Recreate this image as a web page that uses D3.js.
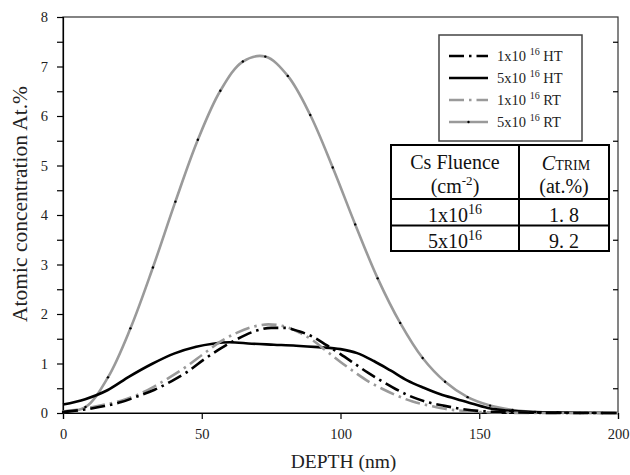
<!DOCTYPE html>
<html>
<head>
<meta charset="utf-8">
<script src="https://cdn.jsdelivr.net/npm/d3@7/dist/d3.min.js"></script>
<style>
  body { margin: 0; background: #fff; }
  svg { display: block; font-family: "Liberation Serif", "Times New Roman", serif; }
  .axis path, .axis line { stroke: #000; stroke-width: 1.2px; }
  .axis text { font-size: 14.5px; fill: #222; font-family: "Liberation Serif", serif; }
</style>
</head>
<body>
<div id="chart"></div>
<script>
/* ---- data ---- */
// 1x10^16 HT (black, dash-dot)
var ht1Depth = [0, 9, 15, 21, 27, 33, 39, 45, 51, 57, 63, 69, 75, 80, 85, 90, 95, 100, 105, 110, 115, 120, 126, 132, 137, 145, 153, 165, 180, 200];
var ht1Conc  = [0.02, 0.08, 0.14, 0.22, 0.34, 0.47, 0.64, 0.84, 1.09, 1.31, 1.50, 1.65, 1.72, 1.72, 1.65, 1.54, 1.37, 1.19, 1.00, 0.81, 0.64, 0.48, 0.32, 0.21, 0.15, 0.07, 0.03, 0.01, 0.0, 0.0];
// 5x10^16 HT (black, solid)
var ht5Depth = [0, 8, 16, 24, 32, 40, 48, 54, 60, 68, 76, 84, 92, 100, 106, 112, 118, 124, 130, 136, 142, 148, 154, 160, 170, 180, 200];
var ht5Conc  = [0.17, 0.28, 0.46, 0.74, 0.99, 1.20, 1.34, 1.40, 1.43, 1.40, 1.38, 1.36, 1.33, 1.29, 1.21, 1.05, 0.86, 0.66, 0.51, 0.38, 0.28, 0.18, 0.09, 0.05, 0.02, 0.01, 0.0];
// 1x10^16 RT (gray, dash-dot)
var rt1Depth = [0, 9, 15, 21, 27, 33, 39, 45, 51, 57, 63, 69, 74, 79, 85, 90, 95, 100, 105, 110, 115, 120, 126, 132, 138, 145, 155, 170, 200];
var rt1Conc  = [0.03, 0.10, 0.17, 0.25, 0.37, 0.54, 0.74, 0.96, 1.21, 1.45, 1.63, 1.75, 1.79, 1.76, 1.63, 1.47, 1.25, 1.03, 0.83, 0.64, 0.49, 0.36, 0.23, 0.15, 0.08, 0.04, 0.01, 0.0, 0.0];
// 5x10^16 RT (gray, solid, with points)
var rt5Depth = [0, 8.1, 16.2, 24.3, 32.4, 40.5, 48.6, 56.7, 64.8, 72.9, 81.0, 89.1, 97.2, 105.3, 113.4, 121.5, 129.6, 137.7, 145.8, 153.9, 162.0, 170.1, 178.2, 186.3, 194.4, 200];
var rt5Conc  = [0.02, 0.12, 0.72, 1.71, 2.94, 4.27, 5.52, 6.51, 7.10, 7.20, 6.81, 6.02, 4.96, 3.81, 2.72, 1.82, 1.11, 0.63, 0.32, 0.15, 0.06, 0.02, 0.01, 0.0, 0.0, 0.0];

var legendBase   = ["1x10", "5x10", "1x10", "5x10"];
var legendExp    = ["16", "16", "16", "16"];
var legendSuffix = ["HT", "HT", "RT", "RT"];

var xTicks = [0, 50, 100, 150, 200];
var yTicks = [0, 1, 2, 3, 4, 5, 6, 7, 8];
var yMinorTicks = [0.5, 1.5, 2.5, 3.5, 4.5, 5.5, 6.5, 7.5];

// table (Cs fluence vs C_TRIM)
var tableFluence = ["1x10", "5x10"];
var tableExp     = ["16", "16"];
var tableTrim    = ["1. 8", "9. 2"];

/* ---- layout ---- */
var width = 630, height = 475;
var margin = {top: 17, right: 12, bottom: 62, left: 63};

var svg = d3.select("#chart").append("svg")
    .attr("width", width)
    .attr("height", height);

svg.append("rect").attr("width", width).attr("height", height).attr("fill", "#fff");

var x = d3.scaleLinear().domain([0, 200]).range([margin.left, width - margin.right]);
var y = d3.scaleLinear().domain([0, 8]).range([height - margin.bottom, margin.top]);

// frame (top and right)
svg.append("rect")
    .attr("x", x(0)).attr("y", y(8))
    .attr("width", x(200) - x(0)).attr("height", y(0) - y(8))
    .attr("fill", "none").attr("stroke", "#333").attr("stroke-width", 1.2);

// axes
svg.append("g").attr("class", "axis")
    .attr("transform", "translate(0," + y(0) + ")")
    .call(d3.axisBottom(x).tickValues(xTicks).tickSize(6).tickPadding(10).tickFormat(d3.format("d")));

svg.append("g").attr("class", "axis")
    .attr("transform", "translate(" + x(0) + ",0)")
    .call(d3.axisLeft(y).tickValues(yTicks).tickSize(6).tickPadding(9).tickFormat(d3.format("d")));

svg.append("g").attr("class", "axis")
    .attr("transform", "translate(" + x(0) + ",0)")
    .call(d3.axisLeft(y).tickValues(yMinorTicks).tickSize(6).tickFormat(""))
    .select(".domain").remove();

svg.append("g").attr("class", "axis")
    .attr("transform", "translate(" + x(200) + ",0)")
    .call(d3.axisLeft(y).tickValues(yMinorTicks).tickSize(5).tickFormat(""))
    .select(".domain").remove();

// axis titles
svg.append("text")
    .attr("x", (x(0) + x(200)) / 2 + 3).attr("y", 468)
    .attr("text-anchor", "middle")
    .style("font-size", "19.5px").style("fill", "#222")
    .text("DEPTH (nm)");

svg.append("text")
    .attr("transform", "translate(27," + 204 + ") rotate(-90)")
    .attr("text-anchor", "middle")
    .style("font-size", "21.5px").style("fill", "#222")
    .text("Atomic concentration At.%");

/* ---- curves ---- */
var series = [
  {depth: ht1Depth, conc: ht1Conc, color: "#000", dash: "15,5,2.5,5"},
  {depth: ht5Depth, conc: ht5Conc, color: "#000", dash: null},
  {depth: rt1Depth, conc: rt1Conc, color: "#9a9a9a", dash: "15,5,2.5,5"},
  {depth: rt5Depth, conc: rt5Conc, color: "#9a9a9a", dash: null}
];

var line = d3.line()
    .x(function(d) { return x(d[0]); })
    .y(function(d) { return y(Math.max(0, d[1])); })
    .curve(d3.curveMonotoneX);

var smoothLine = d3.line()
    .x(function(d) { return x(d[0]); })
    .y(function(d) { return y(d[1]); })
    .curve(d3.curveCatmullRom.alpha(0.5));

// draw in the stacking order of the picture: big RT first, dash-dots over
[3, 1, 2, 0].forEach(function(i) {
  var s = series[i];
  svg.append("path")
      .datum(d3.zip(s.depth, s.conc))
      .attr("fill", "none")
      .attr("stroke", s.color)
      .attr("stroke-width", 2.6)
      .attr("stroke-dasharray", s.dash)
      .attr("d", i === 3 ? smoothLine : line);
});

// points on 5x10^16 RT
svg.selectAll(".pt").data(d3.zip(rt5Depth, rt5Conc).slice(0, rt5Depth.length - 1)).enter()
  .append("circle")
    .attr("class", "pt")
    .attr("cx", function(d) { return x(d[0]); })
    .attr("cy", function(d) { return y(d[1]); })
    .attr("r", 1.2)
    .attr("fill", "#000");

/* ---- legend ---- */
var legend = svg.append("g").attr("transform", "translate(439,35)");
legend.append("rect")
    .attr("width", 143).attr("height", 106)
    .attr("fill", "#fff").attr("stroke", "#444").attr("stroke-width", 1.5);

var rows = legend.selectAll(".lg").data(series).enter()
  .append("g").attr("class", "lg")
  .attr("transform", function(d, i) { return "translate(0," + (21 + i * 22) + ")"; });

rows.append("line")
    .attr("x1", 10).attr("x2", 49)
    .attr("stroke", function(d) { return d.color; })
    .attr("stroke-width", 2.6)
    .attr("stroke-dasharray", function(d) { return d.dash ? "15,5,2.5,5" : null; });

rows.filter(function(d, i) { return i === 3; }).append("circle")
    .attr("cx", 29.5).attr("r", 1.2).attr("fill", "#000");

var lt = rows.append("text")
    .attr("x", 58).attr("y", 5)
    .style("font-size", "14.5px").style("fill", "#222");
lt.append("tspan").text(function(d, i) { return legendBase[i] + " "; });
lt.append("tspan").attr("dy", -6).style("font-size", "10px").text(function(d, i) { return legendExp[i]; });
lt.append("tspan").attr("dy", 6).text(function(d, i) { return " " + legendSuffix[i]; });

/* ---- table ---- */
var tb = svg.append("g").attr("transform", "translate(391,145)");
var tw = 218, th = 106, c1 = 128, r1 = 54, r2 = 80.5;
tb.append("rect").attr("width", tw).attr("height", th)
    .attr("fill", "#fff").attr("stroke", "#000").attr("stroke-width", 2);
tb.append("line").attr("x1", c1).attr("x2", c1).attr("y1", 0).attr("y2", th).attr("stroke", "#000").attr("stroke-width", 2);
[r1, r2].forEach(function(r) {
  tb.append("line").attr("x1", 0).attr("x2", tw).attr("y1", r).attr("y2", r).attr("stroke", "#000").attr("stroke-width", 2);
});

function cellText(cx, cy) {
  return tb.append("text").attr("x", cx).attr("y", cy)
      .attr("text-anchor", "middle")
      .style("font-size", "20px").style("fill", "#111");
}

cellText(c1 / 2, 24).text("Cs Fluence");
var cm = cellText(c1 / 2, 48);
cm.append("tspan").text("(cm");
cm.append("tspan").attr("dy", -8).style("font-size", "13px").text("-2");
cm.append("tspan").attr("dy", 8).text(")");

var ct = cellText((c1 + tw) / 2 + 2, 25);
ct.append("tspan").style("font-style", "italic").text("C");
ct.append("tspan").style("font-size", "14px").text("TRIM");
cellText((c1 + tw) / 2, 48).text("(at.%)");

tableFluence.forEach(function(f, i) {
  var yy = (i === 0 ? 77 : 102.5);
  var t = cellText(c1 / 2, yy);
  t.append("tspan").text(f);
  t.append("tspan").attr("dy", -8).style("font-size", "14px").text(tableExp[i]);
  cellText((c1 + tw) / 2, yy).text(tableTrim[i]);
});
</script>
</body>
</html>
